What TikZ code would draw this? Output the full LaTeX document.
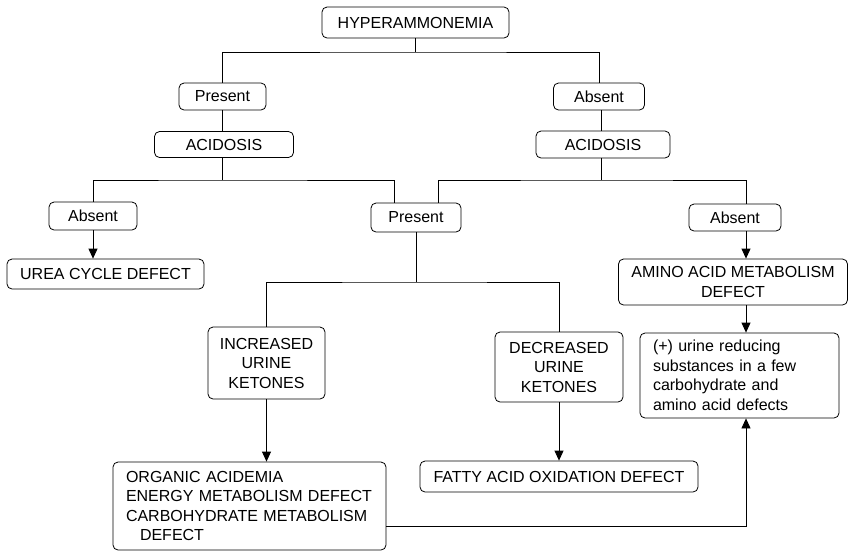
\documentclass[tikz,border=0pt]{standalone}
\usepackage{fontspec}
\setmainfont{Liberation Sans}
\usetikzlibrary{arrows.meta,calc}
\newcommand{\fs}{\fontsize{16}{19.5}\selectfont}
\begin{document}
\begin{tikzpicture}[x=1pt,y=-1pt,
  box/.style={draw, line width=0.8pt, rounded corners=5pt, inner sep=0pt, align=center, font=\fs},
  conn/.style={line width=0.8pt},
  arr/.style={line width=0.8pt, -{Triangle[length=10pt,width=9pt]}}]
\useasboundingbox (0,0) rectangle (849,550);
% nodes
\node[box, minimum width=187pt, minimum height=31pt] (hyper) at (415.5,22.5) {HYPERAMMONEMIA};
\node[box, minimum width=87pt, minimum height=27pt] (pres1) at (222.5,96.5) {Present};
\node[box, minimum width=91pt, minimum height=27pt] (abs1) at (599,96.5) {Absent};
\node[box, minimum width=139pt, minimum height=26pt] (acid1) at (224,144.5) {ACIDOSIS};
\node[box, minimum width=134pt, minimum height=27pt] (acid2) at (603,144.5) {ACIDOSIS};
\node[box, minimum width=88pt, minimum height=28pt] (abs2) at (93,216) {Absent};
\node[box, minimum width=90pt, minimum height=29pt] (pm) at (416,217.5) {Present};
\node[box, minimum width=92pt, minimum height=27pt] (ab3) at (735,217.5) {Absent};
\node[box, minimum width=197pt, minimum height=30pt] (urea) at (105.5,274) {UREA CYCLE DEFECT};
\node[box, minimum width=229pt, minimum height=46pt] (amino) at (733,282) {AMINO ACID METABOLISM\\DEFECT};
\node[box, minimum width=117pt, minimum height=72pt] (inc) at (266.5,363) {INCREASED\\URINE\\KETONES};
\node[box, minimum width=128pt, minimum height=70pt] (dec) at (559,367) {DECREASED\\URINE\\KETONES};
\node[box, minimum width=199pt, minimum height=85pt, text width=173pt, align=left] (plus) at (739.5,375.5) {(+) urine reducing\\substances in a few\\carbohydrate and\\amino acid defects};
\node[box, minimum width=273pt, minimum height=88pt, text width=247pt, align=left] (org) at (249.5,506) {\raisebox{-3pt}{\parbox{247pt}{ORGANIC ACIDEMIA\\ENERGY METABOLISM DEFECT\\CARBOHYDRATE METABOLISM\\\hspace*{14pt}DEFECT}}};
\node[box, minimum width=278pt, minimum height=31pt] (fatty) at (559,476.5) {FATTY ACID OXIDATION DEFECT};
% junction coordinates
\coordinate (j1) at (415.5,52);
\coordinate (j2) at (222,180);
\coordinate (j3) at (601,180);
\coordinate (j4) at (416,282);
\coordinate (xr) at (746,0);
\coordinate (pmL) at ($(pm.north)+(-22,0)$);
\coordinate (pmR) at ($(pm.north)+(22,0)$);
\coordinate (orgR) at ($(org.east)+(0,20)$);
% connectors
\draw[conn] (hyper.south) -- (j1);
\draw[conn] (pres1.north) |- (j1) -| (abs1.north);
\draw[conn] (pres1.south) -- (pres1.south |- acid1.north);
\draw[conn] (abs1.south -| j3) -- (j3 |- acid2.north);
\draw[conn] (acid1.south -| j2) -- (j2);
\draw[conn] (acid2.south -| j3) -- (j3);
\draw[conn] (abs2.north) |- (j2) -| (pmL);
\draw[conn] (pmR) |- (j3) -| (ab3.north -| xr);
\draw[arr] (abs2.south) -- (abs2.south |- urea.north);
\draw[arr] (ab3.south -| xr) -- (amino.north -| xr);
\draw[arr] (amino.south -| xr) -- (plus.north -| xr);
\draw[conn] (pm.south) -- (j4);
\draw[conn] (inc.north) |- (j4) -| (dec.north);
\draw[arr] (inc.south) -- (inc.south |- org.north);
\draw[arr] (dec.south) -- (dec.south |- fatty.north);
\draw[arr] (orgR) -| (plus.south -| xr);
\end{tikzpicture}
\end{document}
